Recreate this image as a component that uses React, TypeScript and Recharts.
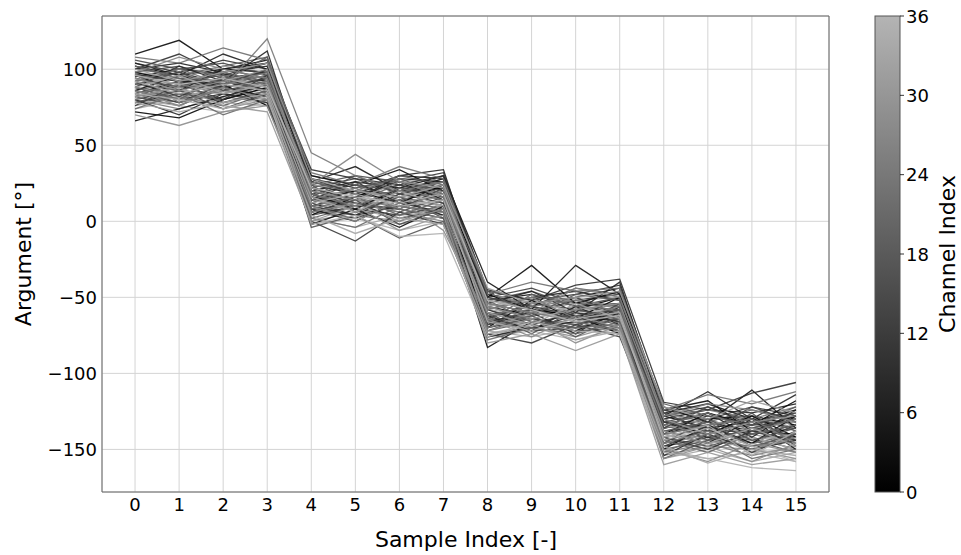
import { CartesianGrid, Line, LineChart, ReferenceArea, XAxis, YAxis } from "recharts";

// sample index along the x axis
const sampleIndex = [0, 1, 2, 3, 4, 5, 6, 7, 8, 9, 10, 11, 12, 13, 14, 15];
const yTicks = [-150, -100, -50, 0, 50, 100];
const colorbarTicks = [0, 6, 12, 18, 24, 30, 36];

// argument [deg] per channel, first capture (row = channel index 0..36, column = sample index)
const argumentRunA: number[][] = [
  [98, 92, 90, 76, 14, 20, 12, 24, -48, -58, -62, -74, -132, -140, -128, -142],
  [72, 68, 80, 88, 4, 16, 26, 14, -70, -52, -64, -50, -140, -126, -134, -118],
  [110, 119, 100, 98, 30, 24, 34, 20, -50, -29, -54, -46, -124, -118, -138, -128],
  [86, 96, 88, 82, -2, 8, -4, 10, -83, -66, -72, -60, -150, -134, -146, -128],
  [66, 74, 82, 90, 18, 8, 22, 30, -40, -58, -29, -48, -122, -132, -111, -136],
  [96, 86, 100, 104, 26, 36, 20, 28, -62, -72, -56, -68, -138, -146, -130, -150],
  [104, 96, 110, 100, 8, 0, 14, 4, -76, -70, -66, -72, -134, -126, -142, -124],
  [88, 102, 92, 112, 22, 14, 30, 34, -54, -46, -60, -40, -128, -112, -130, -114],
  [80, 70, 84, 78, 14, 26, 12, 18, -66, -60, -74, -56, -154, -140, -150, -144],
  [100, 110, 96, 104, 34, 28, 24, 30, -45, -52, -42, -38, -119, -124, -113, -106],
  [92, 82, 94, 86, 10, 4, 18, 12, -58, -68, -60, -66, -142, -150, -138, -144],
  [76, 90, 80, 96, 0, -13, 6, -2, -74, -80, -68, -76, -148, -136, -152, -140],
  [97, 92, 88, 94, 28, 18, 24, 16, -50, -56, -62, -58, -132, -136, -140, -134],
  [84, 78, 90, 100, 20, 12, 8, 22, -64, -54, -50, -62, -126, -138, -122, -132],
  [106, 100, 104, 96, 6, 14, -2, 8, -56, -64, -70, -54, -136, -122, -134, -126],
  [90, 98, 86, 92, 16, 30, 18, 26, -68, -58, -64, -70, -146, -130, -144, -136],
  [78, 86, 74, 84, 24, 6, 16, 2, -60, -74, -58, -64, -130, -144, -126, -148],
  [94, 88, 98, 90, -4, 4, -11, 0, -72, -62, -76, -62, -156, -144, -136, -130],
  [102, 94, 92, 108, 12, 22, 28, 18, -46, -62, -48, -52, -120, -128, -134, -122],
  [82, 92, 78, 86, 26, 18, 30, 24, -66, -48, -56, -58, -138, -132, -148, -140],
  [88, 80, 96, 84, 8, 16, 4, 14, -52, -66, -70, -68, -144, -152, -140, -134],
  [74, 84, 70, 80, 2, -4, 10, 6, -78, -70, -74, -66, -152, -140, -156, -150],
  [108, 104, 114, 106, 32, 24, 36, 28, -48, -40, -46, -44, -124, -114, -120, -112],
  [92, 100, 90, 98, 18, 10, 22, 14, -62, -56, -52, -60, -134, -126, -138, -130],
  [97, 78, 88, 120, 45, 30, 20, 26, -58, -50, -64, -56, -140, -134, -130, -146],
  [80, 90, 84, 92, 14, 22, 8, 20, -70, -60, -66, -72, -146, -138, -150, -142],
  [98, 108, 100, 94, 24, 44, 26, 16, -54, -60, -44, -50, -128, -120, -124, -132],
  [86, 76, 88, 80, 10, 0, 14, -6, -64, -76, -62, -70, -150, -158, -146, -152],
  [70, 63, 72, 76, 6, 12, 0, 8, -72, -64, -80, -68, -156, -148, -158, -146],
  [94, 86, 92, 100, 20, 14, 26, 22, -56, -64, -58, -54, -130, -140, -132, -128],
  [82, 88, 76, 72, 0, 10, -6, 4, -80, -74, -85, -74, -160, -152, -160, -156],
  [100, 92, 98, 104, 28, 20, 16, 24, -44, -54, -50, -46, -122, -130, -118, -126],
  [88, 96, 84, 90, 16, 6, 20, 10, -60, -68, -54, -64, -138, -146, -136, -148],
  [78, 72, 78, 84, 4, -8, 2, -2, -74, -68, -78, -72, -148, -159, -150, -154],
  [92, 84, 90, 86, 12, 18, 10, 14, -66, -72, -64, -60, -142, -134, -154, -138],
  [84, 80, 74, 82, -2, 4, -10, -8, -76, -66, -72, -74, -152, -156, -162, -164],
  [96, 90, 94, 88, 22, 16, 12, 18, -52, -58, -66, -62, -144, -136, -148, -158],
];

// second capture, same layout
const argumentRunB: number[][] = [
  [90, 86, 94, 98, 16, 10, 20, 22, -56, -62, -58, -50, -136, -130, -128, -134],
  [84, 92, 88, 94, 10, 18, 14, 20, -62, -56, -66, -60, -128, -136, -132, -124],
  [102, 96, 100, 106, 24, 18, 28, 26, -48, -54, -50, -44, -140, -132, -138, -130],
  [78, 84, 80, 88, 6, 12, 2, 8, -68, -60, -64, -58, -146, -140, -136, -142],
  [95, 100, 97, 92, 20, 26, 22, 16, -52, -48, -56, -54, -126, -120, -130, -136],
  [88, 80, 86, 90, 12, 4, 10, 18, -64, -70, -62, -66, -134, -142, -138, -140],
  [100, 104, 98, 102, 26, 20, 30, 28, -58, -50, -46, -52, -130, -124, -126, -120],
  [82, 88, 92, 86, 4, 10, 8, 2, -70, -64, -68, -62, -144, -138, -146, -134],
  [92, 98, 90, 96, 18, 24, 16, 22, -54, -60, -52, -48, -136, -128, -134, -132],
  [86, 78, 84, 80, 8, 2, 12, 6, -66, -72, -70, -64, -148, -142, -150, -138],
  [104, 98, 106, 100, 28, 22, 26, 32, -46, -52, -48, -42, -124, -130, -122, -128],
  [80, 86, 78, 84, 14, 8, 4, 10, -60, -68, -72, -70, -140, -146, -142, -150],
  [96, 90, 100, 94, 22, 28, 18, 24, -50, -44, -54, -56, -132, -126, -136, -128],
  [90, 94, 86, 100, 10, 16, 20, 14, -62, -58, -60, -64, -138, -134, -130, -144],
  [82, 76, 88, 92, 18, 12, 6, 16, -68, -62, -56, -60, -142, -148, -140, -136],
  [98, 102, 94, 90, 24, 30, 26, 20, -52, -46, -56, -50, -128, -122, -132, -126],
  [86, 92, 96, 88, 6, 14, 10, 4, -58, -66, -62, -68, -146, -138, -144, -152],
  [94, 88, 92, 98, 16, 8, 22, 26, -64, -54, -58, -62, -134, -140, -128, -138],
  [78, 82, 76, 86, 2, 10, 14, 8, -72, -66, -70, -64, -150, -144, -148, -142],
  [100, 96, 102, 108, 30, 24, 20, 28, -48, -56, -44, -48, -126, -132, -124, -130],
  [88, 84, 80, 90, 12, 20, 16, 10, -60, -64, -68, -58, -140, -134, -146, -140],
  [92, 100, 96, 94, 20, 14, 24, 18, -56, -50, -52, -56, -130, -138, -134, -126],
  [84, 90, 86, 82, 8, 4, 0, 12, -66, -70, -64, -72, -144, -150, -138, -146],
  [96, 92, 98, 104, 26, 20, 18, 30, -50, -58, -54, -46, -128, -124, -130, -122],
  [80, 74, 82, 78, 10, 16, 8, 2, -70, -62, -74, -66, -152, -146, -154, -148],
  [90, 96, 92, 88, 18, 10, 14, 20, -58, -52, -60, -54, -136, -130, -140, -134],
  [102, 94, 90, 96, 14, 22, 26, 18, -54, -60, -50, -58, -132, -140, -136, -142],
  [86, 80, 90, 94, 4, 12, 6, 0, -64, -68, -72, -62, -142, -136, -148, -144],
  [76, 82, 74, 80, 0, 6, -2, 4, -74, -70, -76, -68, -154, -148, -150, -156],
  [94, 90, 88, 84, 22, 16, 12, 16, -52, -56, -62, -60, -138, -144, -140, -146],
  [82, 86, 84, 90, 8, 14, 10, 6, -66, -60, -64, -70, -146, -140, -152, -150],
  [98, 94, 102, 98, 24, 20, 28, 22, -48, -54, -52, -50, -126, -134, -128, -136],
  [88, 82, 86, 80, 14, 8, 2, 10, -62, -70, -66, -62, -142, -150, -144, -140],
  [74, 80, 78, 76, 2, -4, 4, 6, -72, -76, -70, -74, -156, -150, -158, -152],
  [92, 88, 94, 90, 18, 12, 16, 20, -58, -62, -56, -64, -134, -140, -136, -132],
  [80, 76, 72, 78, -2, 2, -6, 0, -76, -72, -78, -70, -150, -156, -152, -158],
  [90, 96, 88, 92, 16, 20, 14, 10, -56, -52, -60, -58, -140, -146, -142, -150],
];

const FONT = "DejaVu Sans";

// grey colormap, black at channel 0 up to light grey at 36
const channelGray = (c: number) => {
  const v = Math.round((c / 36) * 180);
  return `rgb(${v},${v},${v})`;
};

const minus = (v: number) => String(v).replace("-", "\u2212");

const data = sampleIndex.map((s, i) => {
  const row: any = { sample: s };
  argumentRunA.forEach((vals, c) => {
    row[`a${c}`] = vals[i];
  });
  argumentRunB.forEach((vals, c) => {
    row[`b${c}`] = vals[i];
  });
  return row;
});

const seriesKeys: { key: string; channel: number }[] = [];
argumentRunB.forEach((_, c) => seriesKeys.push({ key: `b${c}`, channel: c }));
argumentRunA.forEach((_, c) => seriesKeys.push({ key: `a${c}`, channel: c }));

export default function App() {
  const cbTop = 16;
  const cbBottom = 492;
  return (
    <div style={{ position: "absolute", left: 0, top: 0, width: 961, height: 555, background: "#fff", fontFamily: FONT }}>
      <LineChart width={840} height={555} data={data} margin={{ top: 16, right: 11, bottom: 33, left: 42 }}>
        <CartesianGrid stroke="#d4d4d4" strokeWidth={1} />
        <XAxis
          dataKey="sample"
          type="number"
          domain={[-0.75, 15.75]}
          ticks={sampleIndex}
          allowDataOverflow
          axisLine={false}
          tickLine={false}
          tickSize={4}
          tick={{ fontSize: 18, fill: "#000", fontFamily: FONT }}
        />
        <YAxis
          type="number"
          domain={[-178, 135]}
          ticks={yTicks}
          allowDataOverflow
          width={60}
          axisLine={false}
          tickLine={false}
          tickSize={3}
          tickMargin={2}
          tickFormatter={minus}
          tick={{ fontSize: 18, fill: "#000", fontFamily: FONT }}
        />
        {seriesKeys.map(({ key, channel }) => (
          <Line
            key={key}
            dataKey={key}
            stroke={channelGray(channel)}
            strokeWidth={1.3}
            strokeOpacity={0.9}
            dot={false}
            activeDot={false}
            isAnimationActive={false}
          />
        ))}
        <ReferenceArea x1={-0.75} x2={15.75} y1={-178} y2={135} fill="none" stroke="#666" strokeWidth={1} ifOverflow="visible" />
      </LineChart>

      <svg width={961} height={555} style={{ position: "absolute", left: 0, top: 0, pointerEvents: "none" }} fontFamily={FONT}>
        <defs>
          <linearGradient id="cmap" x1="0" y1="1" x2="0" y2="0">
            <stop offset="0" stopColor={channelGray(0)} />
            <stop offset="1" stopColor={channelGray(36)} />
          </linearGradient>
        </defs>
        <text transform="translate(31,254) rotate(-90)" textAnchor="middle" fontSize={22} fill="#000">
          Argument [°]
        </text>
        <text x={466} y={547} textAnchor="middle" fontSize={22} fill="#000">
          Sample Index [-]
        </text>
        <rect x={875} y={cbTop} width={25} height={cbBottom - cbTop} fill="url(#cmap)" stroke="#555" strokeWidth={1} />
        {colorbarTicks.map((t) => {
          const y = cbBottom - (t / 36) * (cbBottom - cbTop);
          return (
            <g key={t}>
              <line x1={900} x2={904} y1={y} y2={y} stroke="#000" strokeWidth={0.8} />
              <text x={906} y={y} dominantBaseline="central" fontSize={18} fill="#000">
                {t}
              </text>
            </g>
          );
        })}
        <text transform="translate(955,254) rotate(-90)" textAnchor="middle" fontSize={22} fill="#000">
          Channel Index
        </text>
      </svg>
    </div>
  );
}
